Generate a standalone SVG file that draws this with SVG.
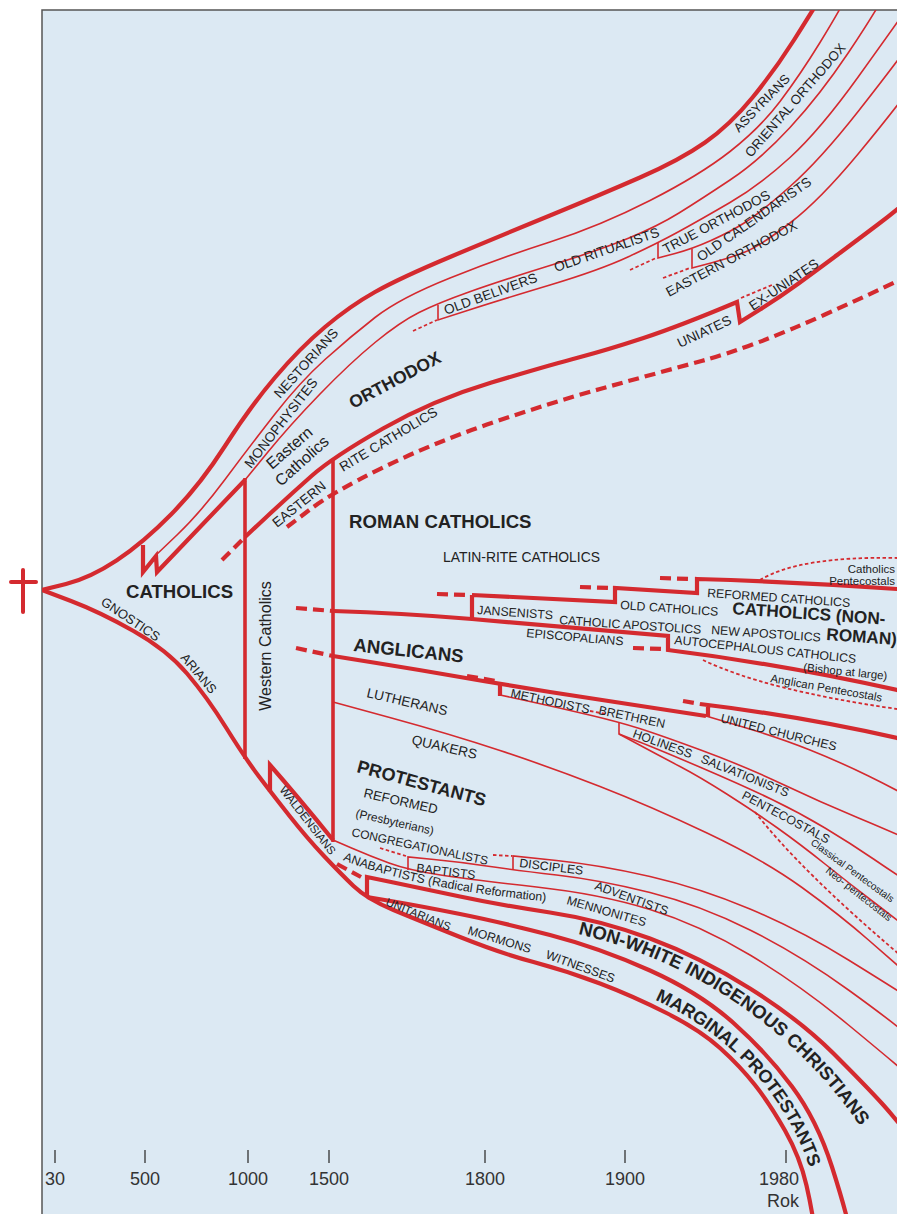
<svg xmlns="http://www.w3.org/2000/svg" width="897" height="1214" viewBox="0 0 897 1214">
<defs>
<clipPath id="clip"><rect x="42" y="10" width="855" height="1204"/></clipPath>
<style>
.k{fill:none;stroke:#d42a2f;stroke-width:4.2}
.n{fill:none;stroke:#d42a2f;stroke-width:1.6}
.v{fill:none;stroke:#d42a2f;stroke-width:3.6}
.d{fill:none;stroke:#d42a2f;stroke-width:4.2;stroke-dasharray:11 6}
.o{fill:none;stroke:#d42a2f;stroke-width:1.8;stroke-dasharray:3.5 2.5}
text{font-family:"Liberation Sans",Arial,sans-serif;font-size:12.3px;fill:#222}
.L{font-size:13.6px}
.b{font-weight:bold;font-size:18.6px}
.s{font-size:11.5px}
.m{font-size:16px}
.ax{font-size:18px;fill:#333;text-anchor:middle}
</style>
<path id="pAna" d="M343,860 Q415,889 552,902"/>
<path id="pNW" d="M578,934 C690,960 799,1028 872,1144"/>
<path id="pMP" d="M655,1000 C722,1030 786,1090 812,1175"/>
</defs>
<rect width="897" height="1214" fill="#fff"/>
<rect x="42" y="10" width="855" height="1204" fill="#dce9f3"/>
<path d="M42,1214 L42,10 L897,10" stroke="#555" stroke-width="1.5" fill="none"/>
<g id="cross" stroke="#d42a2f" stroke-width="4" stroke-linecap="round"><line x1="23" y1="570" x2="23" y2="612"/><line x1="11" y1="582" x2="36" y2="582"/></g>

<g id="connectors" clip-path="url(#clip)">
<path class="k" d="M42,590 L66,584 Q90,578 116.5,560.5 Q143,543 171.5,514 Q200,485 225,446 Q250,407 275,377.5 Q300,348 325,327 Q350,306 375,292 Q400,278 450,257 Q500,236 550,215.5 Q600,195 640,177.5 Q680,160 705,142.5 Q730,125 752.5,97.5 Q775,70 794,40 Q813,10 825,-10"/>
<path class="k" d="M143,545 L143,572 L156,556 L157,572 L245,480"/>
<path class="n" d="M155,556 L177.5,534.5 Q200,513 225,479.5 Q250,446 275,414 Q300,382 325,359.5 Q350,337 375,317.5 Q400,298 450,278 Q500,258 550,242 Q600,226 650,200.5 Q700,175 730,151.5 Q760,128 780,101.5 Q800,75 820,42.5 Q840,10 850,-10"/>
<path class="n" d="M245,480 L267.5,452.5 Q290,425 320,394 Q350,363 375,342.5 Q400,322 419,312.5 Q438,303 469,292 Q500,281 550,265.5 Q600,250 629,238 Q658,226 679,213 Q700,200 730,180 Q760,160 790,127.5 Q820,95 848.5,52.5 Q877,10 887,-10"/>
<path class="n" d="M438,305 L438,320 L469,310 Q500,300 550,285 Q600,270 629,256.5 Q658,243 679,231.5 Q700,220 730,202.5 Q760,185 790,157.5 Q820,130 858.5,76.5 Q897,23 920,-10"/>
<path class="n" d="M658,243 L658,258 L675,253.5 Q692,249 711,240.5 Q730,232 745,222.5 Q760,213 790,186.5 Q820,160 858.5,111 Q897,62 920,30"/>
<path class="n" d="M692,249 L692,268 L711,263 Q730,258 745,252 Q760,246 790,223 Q820,200 858.5,153.5 Q897,107 920,75"/>
<path class="o" d="M413,331 L437,320 M630,270 L656,258 M663,278 L690,268 M741,298 L772,285"/>
<path class="k" d="M245,537 L267.5,516 Q290,495 311.5,476 Q333,457 383,428.5 Q433,400 491.5,382.5 Q550,365 578.5,357.5 Q607,350 643.5,338 Q680,326 737,302 L740,322 L760,309.5 Q780,297 798.5,283.5 Q817,270 838.5,254 Q860,238 878.5,224 Q897,210 920,190"/>
<path class="d" d="M222,560 L245,537"/>
<path class="d" d="M287,527 L310,509.5 Q333,492 383,467.5 Q433,443 491.5,423 Q550,403 600,389 Q650,375 701.5,361 Q753,347 825,314.5 Q897,282 920,270"/>
<path class="v" d="M245,478 L245,759"/>
<path class="v" d="M333,459 L333,842"/>
<path class="d" d="M296,608 L333,611 M296,648 L333,656 M437,594 L467,595 M580,587 L609,588 M660,578 L690,579 M633,648 L662,649 M467,676 L496,681 M683,701 L700,704 M337,864 L361,877"/>
<path class="k" d="M472,595 L472,619 M472,595 L615,602 L615,588 L697,593 L697,579 Q800,582 897,589 L920,590"/>
<path class="k" d="M333,611 Q400,613 472,619 L668,636 L668,650 Q780,664 897,690 L920,696"/>
<path class="o" d="M760,580 Q800,556 897,558 M703,660 Q765,690 897,709"/>
<path class="k" d="M333,656 L376.5,663 Q420,670 460,677 Q500,684 550,692 Q600,700 706,716"/>
<path class="k" d="M500,682 L500,696"/>
<path class="n" d="M706,716 L743,727 Q780,738 810,750 Q840,762 868.5,776 Q897,790 920,803"/>
<path class="k" d="M700,704 Q800,716 897,738 L920,744 M708,704 L708,717"/>
<path class="n" d="M500,695 L530,701.5 Q560,708 589.5,715 Q619,722 639.5,728.5 Q660,735 702,750.5 Q744,766 782,784 Q820,802 858.5,818 Q897,834 920,845"/>
<path class="n" d="M619,722 L619,734 L639.5,742 Q660,750 702,768 Q744,786 772,799.5 Q800,813 825,828 Q850,843 873.5,859 Q897,875 920,890"/>
<path class="n" d="M619,734 L639.5,745 Q660,756 680,766.5 Q700,777 727.5,794.5 Q755,812 777.5,828 Q800,844 825,864 Q850,884 873.5,902 Q897,920 920,938"/>
<path class="o" d="M755,812 Q800,870 900,955 M590,711 L606,714 M380,848 L406,856 M493,855 L512,856"/>
<path class="n" d="M333,702 L391.5,718 Q450,734 500,750.5 Q550,767 600,786.5 Q650,806 707,833 Q764,860 802,887.5 Q840,915 868.5,940 Q897,965 920,985"/>
<path class="n" d="M513,870 L513,856 L556.5,860.5 Q600,865 650,876.5 Q700,888 750,909 Q800,930 848.5,960 Q897,990 920,1005"/>
<path class="n" d="M408,870 L408,857 L434,859.5 Q460,862 486.5,866 Q513,870 556.5,875 Q600,880 650,892.5 Q700,905 750,930 Q800,955 848.5,990 Q897,1025 920,1045"/>
<path class="n" d="M333,840 L351.5,848 Q370,856 389,863 Q408,870 440.5,875 Q473,880 536.5,887 Q600,894 650,909.5 Q700,925 750,955 Q800,985 848.5,1025 Q897,1065 920,1085"/>
<path class="k" d="M367,896 L367,877 L393.5,882.5 Q420,888 460,896.5 Q500,905 550,912.5 Q600,920 650,938.5 Q700,957 750,988.5 Q800,1020 833.5,1053.5 Q867,1087 882,1103.5 Q897,1120 920,1150"/>
<path class="k" d="M367,897 L393.5,901.5 Q420,906 460,914 Q500,922 550,935 Q600,948 650,970.5 Q700,993 733.5,1023 Q767,1053 792,1086.5 Q817,1120 832,1167 Q847,1214 852,1240"/>
<path class="k" d="M42,590 L71,601 Q100,612 133.5,631 Q167,650 187,673.5 Q207,697 226,727.5 Q245,758 259,776.5 Q273,795 290,816.5 Q307,838 323.5,855.5 Q340,873 353.5,886 Q367,899 393.5,910 Q420,921 460,937 Q500,953 533.5,962 Q567,971 600,983.5 Q633,996 666.5,1013 Q700,1030 720,1048 Q740,1066 755,1085 Q770,1104 785,1130.5 Q800,1157 806.5,1185.5 Q813,1214 816,1240"/>
<path class="k" d="M270,792 L270,765 Q298,797 333,840"/>
</g>

<g id="labels-orthodox">
<g id="assyrians"><text style="font-size:13px" transform="translate(739,133) rotate(-46)">ASSYRIANS</text></g>
<g id="oriental"><text style="font-size:13.3px" transform="translate(751,158) rotate(-49)">ORIENTAL ORTHODOX</text></g>
<g id="oldbelivers"><text class="L" transform="translate(446,315) rotate(-20)">OLD BELIVERS</text></g>
<g id="oldritualists"><text class="L" transform="translate(556,272) rotate(-19)">OLD RITUALISTS</text></g>
<g id="trueorthodos"><text class="L" transform="translate(666,254) rotate(-28)">TRUE ORTHODOS</text></g>
<g id="oldcalendarists"><text class="L" transform="translate(701,262) rotate(-35)">OLD CALENDARISTS</text></g>
<g id="easternorthodox"><text class="L" transform="translate(669,297) rotate(-28)">EASTERN ORTHODOX</text></g>
<g id="uniates"><text class="L" transform="translate(680,348) rotate(-25)">UNIATES</text></g>
<g id="exuniates"><text class="L" transform="translate(753,311) rotate(-34)">EX-UNIATES</text></g>
<g id="nestorians"><text class="L" transform="translate(280,399) rotate(-48)">NESTORIANS</text></g>
<g id="monophysites"><text class="L" transform="translate(251,469) rotate(-52)">MONOPHYSITES</text></g>
<g id="easterncatholics"><text class="m" transform="translate(272,470) rotate(-41)">Eastern</text><text class="m" transform="translate(281,487) rotate(-42)">Catholics</text></g>
<g id="orthodox"><text class="b" style="font-size:17.5px" transform="translate(353,409) rotate(-28)">ORTHODOX</text></g>
<g id="eastern"><text class="L" transform="translate(277,528) rotate(-39)">EASTERN</text></g>
<g id="ritecatholics"><text class="L" transform="translate(343,472) rotate(-31)">RITE CATHOLICS</text></g>
</g>

<g id="labels-catholic">
<g id="romancatholics"><text class="b" x="349" y="528">ROMAN CATHOLICS</text></g>
<g id="latinrite"><text x="443" y="562" style="font-size:13.9px">LATIN-RITE CATHOLICS</text></g>
<g id="catholics"><text class="b" x="126" y="598">CATHOLICS</text></g>
<g id="gnostics"><text style="font-size:13px" transform="translate(100,604) rotate(34)">GNOSTICS</text></g>
<g id="arians"><text style="font-size:12.8px" transform="translate(180,658) rotate(50)">ARIANS</text></g>
<g id="westerncatholics"><text class="m" text-anchor="middle" transform="translate(271,646) rotate(-90)">Western Catholics</text></g>
<g id="waldensians"><text style="font-size:11.5px" transform="translate(279,790) rotate(52)">WALDENSIANS</text></g>
<g id="jansenists"><text transform="translate(477,614) rotate(4)">JANSENISTS</text></g>
<g id="oldcatholics"><text transform="translate(620,609) rotate(4)">OLD CATHOLICS</text></g>
<g id="reformedcatholics"><text transform="translate(707,597) rotate(4)">REFORMED CATHOLICS</text></g>
<g id="nonroman"><text class="b" style="font-size:17.2px" transform="translate(732,614) rotate(4)">CATHOLICS (NON-</text><text class="b" style="font-size:17.2px" transform="translate(826,640) rotate(4)">ROMAN)</text></g>
<g id="catholicapostolics"><text transform="translate(559,624) rotate(4)">CATHOLIC APOSTOLICS</text></g>
<g id="newapostolics"><text transform="translate(711,634) rotate(4)">NEW APOSTOLICS</text></g>
<g id="episcopalians"><text transform="translate(526,637) rotate(5)">EPISCOPALIANS</text></g>
<g id="autocephalous"><text transform="translate(674,644) rotate(6)">AUTOCEPHALOUS CATHOLICS</text><text class="s" transform="translate(803,671) rotate(6)">(Bishop at large)</text></g>
<g id="anglicanpent"><text class="s" transform="translate(770,682) rotate(10)">Anglican Pentecostals</text></g>
<g id="catholicspent"><text class="s" text-anchor="end" x="895" y="573">Catholics</text><text class="s" text-anchor="end" x="895" y="585">Pentecostals</text></g>
<g id="anglicans"><text class="b" transform="translate(353,651) rotate(6)">ANGLICANS</text></g>
</g>

<g id="labels-protestant">
<g id="lutherans"><text class="L" transform="translate(366,697) rotate(13)">LUTHERANS</text></g>
<g id="quakers"><text class="L" transform="translate(411,744) rotate(13)">QUAKERS</text></g>
<g id="protestants"><text class="b" style="font-size:18px" transform="translate(356,772) rotate(15)">PROTESTANTS</text></g>
<g id="reformed"><text style="font-size:13.2px" transform="translate(363,797) rotate(13)">REFORMED</text><text style="font-size:11.8px" transform="translate(355,817) rotate(13)">(Presbyterians)</text></g>
<g id="congregationalists"><text style="font-size:12px" transform="translate(351,836) rotate(12)">CONGREGATIONALISTS</text></g>
<g id="baptists"><text transform="translate(416,872) rotate(7)">BAPTISTS</text></g>
<g id="disciples"><text transform="translate(519,867) rotate(7)">DISCIPLES</text></g>
<g id="anabaptists"><text><textPath href="#pAna">ANABAPTISTS (Radical Reformation)</textPath></text></g>
<g id="adventists"><text transform="translate(594,889) rotate(20)">ADVENTISTS</text></g>
<g id="mennonites"><text transform="translate(566,904) rotate(16)">MENNONITES</text></g>
<g id="unitarians"><text style="font-size:11.5px" transform="translate(385,905) rotate(22)">UNITARIANS</text></g>
<g id="mormons"><text transform="translate(467,934) rotate(17)">MORMONS</text></g>
<g id="witnesses"><text transform="translate(545,958) rotate(20)">WITNESSES</text></g>
<g id="methodists"><text transform="translate(510,697) rotate(12)">METHODISTS</text></g>
<g id="brethren"><text transform="translate(598,714) rotate(12)">BRETHREN</text></g>
<g id="holiness"><text transform="translate(632,737) rotate(20)">HOLINESS</text></g>
<g id="salvationists"><text transform="translate(700,762) rotate(22)">SALVATIONISTS</text></g>
<g id="pentecostals"><text transform="translate(741,798) rotate(28)">PENTECOSTALS</text></g>
<g id="classical"><text style="font-size:10px" transform="translate(810,844) rotate(36)">Classical Pentecostals</text></g>
<g id="neo"><text style="font-size:10px" transform="translate(825,872) rotate(38)">Neo- pentecostals</text></g>
<g id="unitedchurches"><text transform="translate(720,722) rotate(14)">UNITED CHURCHES</text></g>
<g id="nonwhite"><text class="b"><textPath href="#pNW">NON-WHITE INDIGENOUS CHRISTIANS</textPath></text></g>
<g id="marginal"><text class="b" style="font-size:18px"><textPath href="#pMP">MARGINAL PROTESTANTS</textPath></text></g>
</g>

<g id="axis">
<path d="M55,1150V1163M145,1150V1163M248,1150V1163M329,1150V1163M485,1150V1163M625,1150V1163M786,1150V1163" stroke="#333" stroke-width="1.3"/>
<text class="ax" x="55" y="1185">30</text>
<text class="ax" x="145" y="1185">500</text>
<text class="ax" x="248" y="1185">1000</text>
<text class="ax" x="329" y="1185">1500</text>
<text class="ax" x="485" y="1185">1800</text>
<text class="ax" x="625" y="1185">1900</text>
<text class="ax" x="779" y="1185">1980</text>
<text class="ax" x="783" y="1207">Rok</text>
</g>
</svg>
